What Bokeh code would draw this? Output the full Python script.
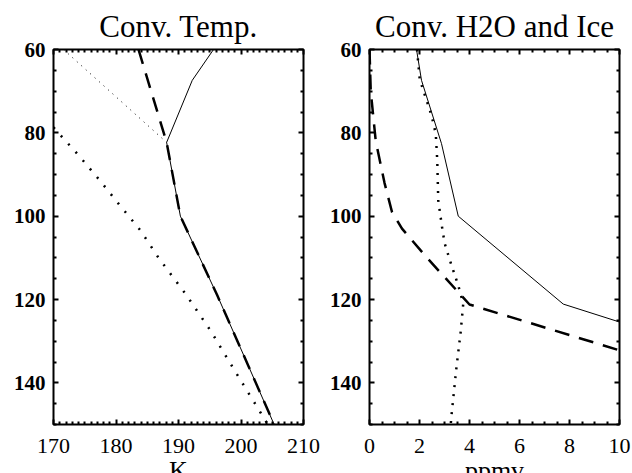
from bokeh.plotting import figure
from bokeh.models import Range1d, LinearAxis, FixedTicker, CustomJSTickFormatter
from bokeh.layouts import row
from bokeh.embed import file_html
from bokeh.resources import INLINE

# ---------------- data ----------------
# Left panel: Conv. Temp. (K) versus level (60 top .. 150 bottom)
temp_solid_T = [195.6, 192.2, 188.1, 190.3, 196.2, 201.2, 205.3]
temp_solid_P = [60, 67.4, 82.3, 100, 119, 136, 150]
temp_dash_T = [183.6, 188.1, 190.3, 196.2, 201.2, 205.3]
temp_dash_P = [60, 82.3, 100, 119, 136, 150]
temp_thin_dot_T = [171.6, 188.1]
temp_thin_dot_P = [60, 82.3]
temp_dot_T = [170.0, 173.9, 177.4, 180.4, 183.9, 186.9, 191.1, 195.1, 198.8, 203.4, 204.3]
temp_dot_P = [78.7, 85.2, 91.4, 97.0, 103.4, 110.2, 118.6, 127.4, 136.6, 147.8, 150]

# Right panel: Conv. H2O and Ice (ppmv)
h2o_solid_x = [1.88, 2.08, 2.88, 3.55, 7.75, 10.0]
h2o_solid_P = [60, 67.4, 82.6, 100, 121.1, 125.4]
h2o_dot_x = [1.9, 2.01, 2.48, 2.65, 2.71, 2.75, 2.92, 3.01, 3.28, 3.55, 3.75, 3.64, 3.48, 3.28, 3.25]
h2o_dot_P = [60, 67.2, 75.8, 80.2, 86.6, 96.2, 103.4, 106.6, 111.8, 116.6, 121.0, 128.2, 136.2, 147.8, 150]
h2o_dash_x = [0.0, 0.05, 0.25, 0.6, 0.9, 1.3, 2.3, 4.0, 10.0]
h2o_dash_P = [60, 70, 82, 92, 99, 103, 110, 121.2, 132.2]

y_major = [60, 80, 100, 120, 140]
y_minor = [v for v in range(60, 151, 5) if v not in y_major]
left_x_major = [170, 180, 190, 200, 210]
left_x_minor = [v for v in range(170, 211) if v not in left_x_major]
right_x_major = [0, 2, 4, 6, 8, 10]
right_x_minor = [v / 2 for v in range(0, 21) if v % 4 != 0]

FONT = "Liberation Serif"


def style_axis(ax, show_labels, bold=False, standoff=10):
    ax.major_tick_in = 5
    ax.major_tick_out = 0
    ax.minor_tick_in = 3
    ax.minor_tick_out = 0
    ax.major_tick_line_width = 2
    ax.minor_tick_line_width = 2
    ax.major_tick_line_color = "black"
    ax.minor_tick_line_color = "black"
    ax.axis_line_color = None
    ax.major_label_text_font = FONT
    ax.major_label_text_color = "black"
    ax.major_label_text_font_style = "bold" if bold else "normal"
    ax.axis_label_text_font = FONT
    ax.axis_label_text_font_style = "normal"
    ax.axis_label_text_color = "black"
    ax.axis_label_text_font_size = "26px"
    ax.axis_label_standoff = 0
    if show_labels:
        ax.major_label_text_font_size = "22px" if not bold else "21px"
        ax.major_label_standoff = standoff
    else:
        ax.formatter = CustomJSTickFormatter(code="return ''")
        ax.major_label_standoff = 0


def make_panel(title, xr, xmaj, xmin, xlabel, bl, br):
    p = figure(frame_width=250, frame_height=375,
               x_range=Range1d(*xr), y_range=Range1d(150, 60),
               output_backend="svg", toolbar_location=None,
               min_border_left=bl, min_border_right=br,
               min_border_top=49, min_border_bottom=10,
               x_axis_label=xlabel)
    p.title.text = title
    p.title.text_font = FONT
    p.title.text_font_size = "31px"
    p.title.text_font_style = "normal"
    p.title.text_color = "black"
    p.title.align = "center"
    p.title.standoff = 12
    p.xgrid.visible = False
    p.ygrid.visible = False
    p.outline_line_color = "black"
    p.outline_line_width = 2
    p.background_fill_color = "white"
    p.border_fill_color = "white"

    xt = FixedTicker(ticks=xmaj, minor_ticks=xmin)
    yt = FixedTicker(ticks=y_major, minor_ticks=y_minor)
    p.xaxis.ticker = xt
    p.yaxis.ticker = yt
    style_axis(p.xaxis[0], True, bold=False, standoff=14)
    style_axis(p.yaxis[0], True, bold=True, standoff=8)

    top = LinearAxis(ticker=xt)
    style_axis(top, False)
    p.add_layout(top, "above")
    right = LinearAxis(ticker=yt)
    style_axis(right, False)
    p.add_layout(right, "right")
    return p


left = make_panel("Conv. Temp.", (170, 210), left_x_major, left_x_minor, "K", 53, 18)
left.line(temp_solid_T, temp_solid_P, line_color="black", line_width=1)
left.line(temp_dash_T, temp_dash_P, line_color="black", line_width=2.5, line_dash="15 10")
left.line(temp_thin_dot_T, temp_thin_dot_P, line_color="black", line_width=1, line_dash="1 5")
left.line(temp_dot_T, temp_dot_P, line_color="black", line_width=2.5, line_dash="2 9")

right_p = make_panel("Conv. H2O and Ice", (0, 10), right_x_major, right_x_minor, "ppmv", 48, 13)
right_p.line(h2o_solid_x, h2o_solid_P, line_color="black", line_width=1)
right_p.line(h2o_dot_x, h2o_dot_P, line_color="black", line_width=2.5, line_dash="2 7")
right_p.line(h2o_dash_x, h2o_dash_P, line_color="black", line_width=2.5, line_dash="15 10")

layout = row(left, right_p, spacing=0)
open("out.html", "w").write(file_html(layout, INLINE))
